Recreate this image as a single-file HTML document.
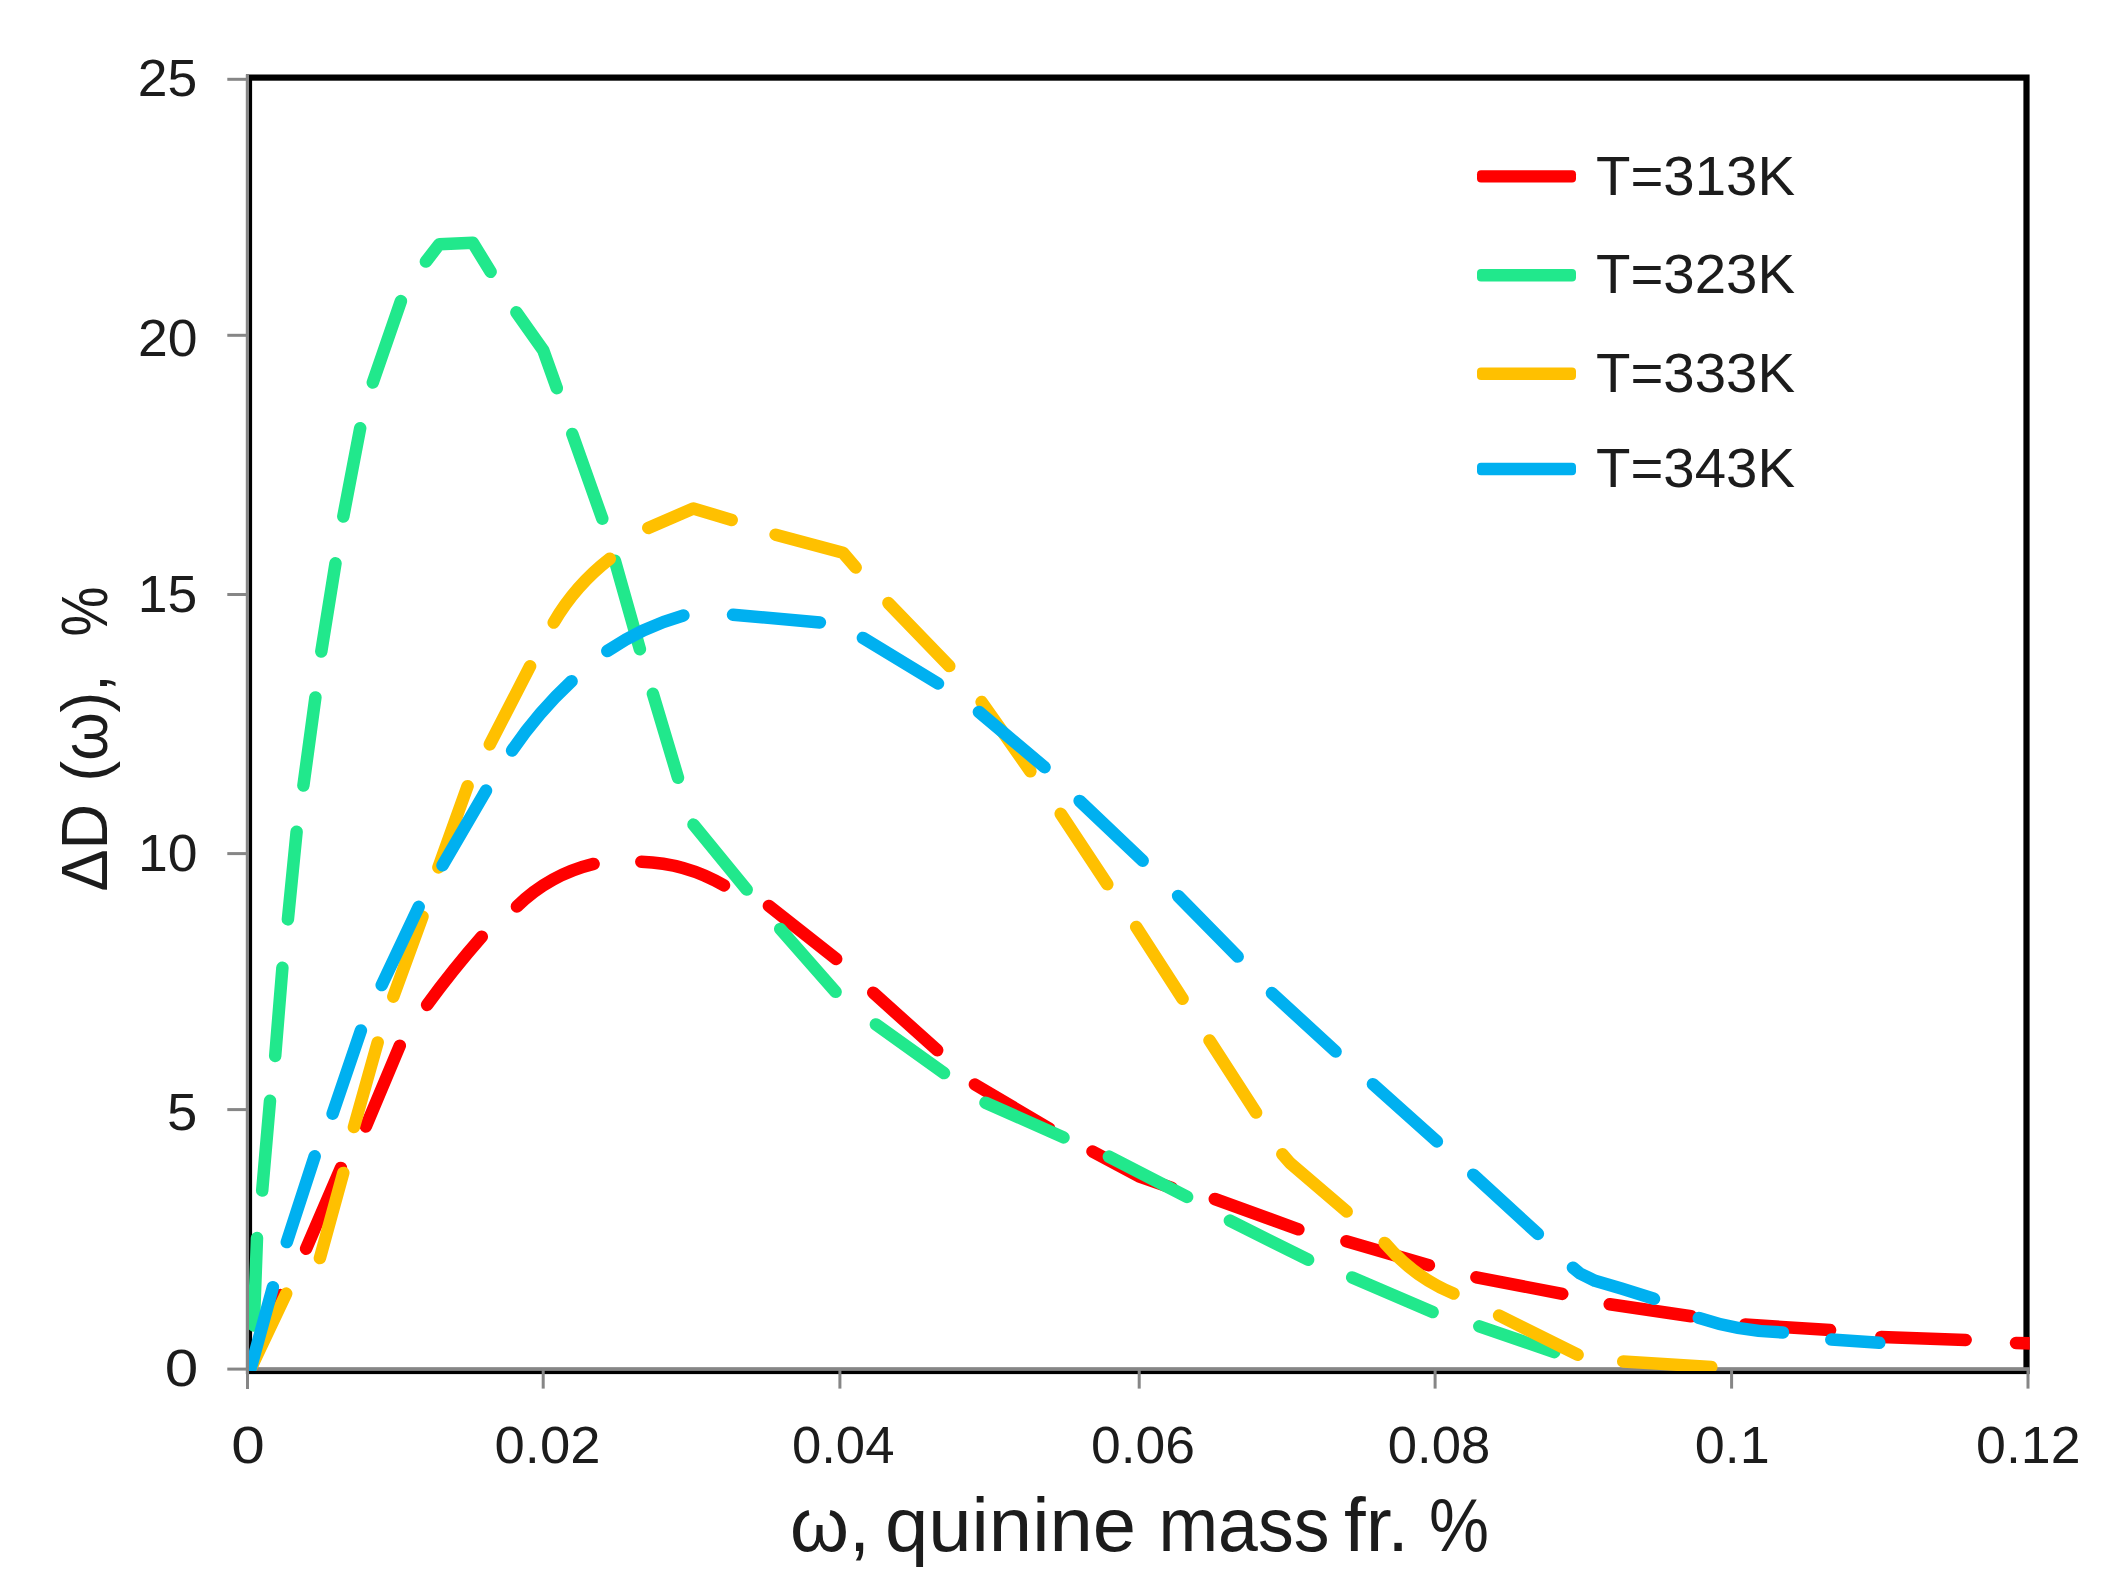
<!DOCTYPE html>
<html lang="en"><head><meta charset="utf-8"><title>ΔD(ω) chart</title>
<style>
html,body{margin:0;padding:0;background:#fff;}
body{width:2117px;height:1580px;overflow:hidden;}
svg{display:block;}
text{font-family:"Liberation Sans", sans-serif;fill:#1c1c1c;}
.c{fill:none;stroke-width:12.5;stroke-linecap:round;stroke-linejoin:round;}
</style></head><body>
<svg width="2117" height="1580" viewBox="0 0 2117 1580">
<rect width="2117" height="1580" fill="#fff"/>
<g id="frame">
<rect x="249" y="77.6" width="1777.5" height="1293.4" fill="none" stroke="#000" stroke-width="6.2"/>
<rect x="246" y="75" width="3" height="1314" fill="#868686"/>
<rect x="246" y="1367.2" width="1783.8" height="3.7" fill="#868686"/>
<rect x="227.3" y="77.8" width="19" height="3" fill="#868686"/>
<rect x="227.3" y="333.8" width="19" height="3" fill="#868686"/>
<rect x="227.3" y="593.0" width="19" height="3" fill="#868686"/>
<rect x="227.3" y="852.1" width="19" height="3" fill="#868686"/>
<rect x="227.3" y="1108.1" width="19" height="3" fill="#868686"/>
<rect x="227.3" y="1367.6" width="19" height="3" fill="#868686"/>
<rect x="541.7" y="1368" width="3" height="20.6" fill="#868686"/>
<rect x="838.4" y="1368" width="3" height="20.6" fill="#868686"/>
<rect x="1137.7" y="1368" width="3" height="20.6" fill="#868686"/>
<rect x="1433.6" y="1368" width="3" height="20.6" fill="#868686"/>
<rect x="1730.1" y="1368" width="3" height="20.6" fill="#868686"/>
<rect x="2026.5" y="1368" width="3" height="20.6" fill="#868686"/>
</g>
<clipPath id="pc"><rect x="249" y="70" width="1780.8" height="1300.9"/></clipPath>
<g id="curves" clip-path="url(#pc)">
<path class="c" stroke="#ff0000" d="M250.5 1369.0 L280.4 1295.1 M306.1 1248.8 L340.9 1167.9 M365.9 1126.4 L399.8 1045.7 M427.1 1004.9 Q452.9 969.6 481.8 936.7 M516.9 906.5 Q549.4 874.7 593.6 863.9 M641.3 861.7 Q685.7 863.0 724.0 885.4 M768.9 905.9 L836.2 959.0 M873.2 992.7 L937.2 1050.2 M974.9 1084.5 L1049.3 1128.7 M1092.5 1151.5 L1138.9 1176.3 L1171.8 1187.9 M1214.8 1199.0 L1298.4 1229.3 M1346.4 1241.3 L1428.9 1265.2 M1476.4 1277.3 L1562.3 1293.9 M1609.7 1304.2 L1691.1 1316.2 M1745.2 1324.5 L1830.1 1330.1 M1881.2 1336.9 L1965.7 1339.9 M2016.0 1343.0 L2031.0 1343.4"/>
<path class="c" stroke="#21e88c" d="M257.0 1238.1 L253.8 1325.5 M270.0 1100.8 L262.2 1190.6 M282.4 967.7 L275.2 1055.9 M296.6 831.8 L287.9 919.4 M315.4 697.4 L303.4 785.5 M335.5 563.3 L321.3 651.5 M360.2 428.2 L343.3 516.5 M400.9 301.1 L372.8 382.5 M425.9 261.6 L439.3 244.2 L472.8 242.8 L490.6 271.8 M516.4 312.3 L543.3 350.3 L556.8 388.2 M572.3 434.0 L602.3 518.7 M614.9 560.8 L639.9 649.3 M652.9 693.8 L678.0 777.7 M693.5 824.6 L746.7 889.6 M780.2 928.9 L835.6 991.8 M875.9 1024.4 L944.0 1073.1 M985.5 1102.7 L1063.5 1137.4 M1108.9 1156.6 L1187.1 1196.9 M1229.9 1220.6 L1308.1 1259.7 M1352.2 1277.4 L1432.6 1312.1 M1479.3 1326.3 L1554.2 1352.2"/>
<path class="c" stroke="#ffc000" d="M250.5 1369.0 L286.2 1293.6 M319.9 1258.1 L343.3 1172.9 M353.9 1127.1 L377.7 1042.4 M393.3 996.7 L422.5 916.5 M438.4 867.4 L467.6 786.2 M489.8 744.4 L530.1 666.2 M553.7 622.6 Q575.6 585.2 609.8 558.8 M648.3 527.9 L693.3 508.5 L731.7 519.9 M775.6 534.7 L842.9 552.7 L855.7 567.5 M888.4 603.1 L949.3 666.1 M981.6 702.0 L1030.4 771.3 M1060.7 813.8 L1107.3 884.2 M1136.2 926.9 L1182.6 998.8 M1209.5 1040.4 L1256.1 1112.6 M1282.3 1154.2 L1290.0 1163.0 L1346.7 1211.5 M1384.7 1242.9 Q1413.2 1276.7 1453.5 1293.6 M1499.1 1315.5 L1577.6 1354.7 M1623.2 1361.4 L1711.3 1366.9"/>
<path class="c" stroke="#00b0f0" d="M250.5 1369.0 L272.9 1287.2 M286.8 1242.1 L314.7 1156.3 M332.6 1113.7 L360.9 1030.4 M381.7 985.1 L418.7 906.8 M442.5 865.3 L486.0 790.6 M512.1 750.6 Q537.9 712.5 571.6 681.2 M607.3 651.0 Q642.5 627.1 683.4 615.5 M733.0 614.7 L819.9 622.4 M862.9 637.9 L938.0 683.5 M978.9 711.9 L1044.6 767.2 M1079.6 800.9 L1142.7 860.7 M1178.1 896.0 L1237.7 956.6 M1271.9 993.1 L1335.6 1051.5 M1372.9 1084.2 L1436.9 1141.4 M1473.2 1174.7 L1537.9 1233.9 M1572.9 1267.7 L1580.0 1273.5 L1595.0 1280.8 L1621.4 1288.6 L1654.0 1298.8 M1698.8 1317.9 Q1739.7 1331.6 1783.0 1332.4 M1831.3 1339.6 L1879.3 1342.8"/>
</g>
<g id="legend">
<rect x="1477" y="170.2" width="99" height="12.4" rx="4" fill="#ff0000"/>
<rect x="1477" y="269.0" width="99" height="12.4" rx="4" fill="#21e88c"/>
<rect x="1477" y="367.6" width="99" height="12.4" rx="4" fill="#ffc000"/>
<rect x="1477" y="462.8" width="99" height="12.4" rx="4" fill="#00b0f0"/>
<text x="1596.0" y="194.5" font-size="55.5" text-anchor="start" textLength="199.0" lengthAdjust="spacingAndGlyphs">T=313K</text>
<text x="1596.0" y="293.3" font-size="55.5" text-anchor="start" textLength="199.0" lengthAdjust="spacingAndGlyphs">T=323K</text>
<text x="1596.0" y="391.9" font-size="55.5" text-anchor="start" textLength="199.0" lengthAdjust="spacingAndGlyphs">T=333K</text>
<text x="1596.0" y="487.1" font-size="55.5" text-anchor="start" textLength="199.0" lengthAdjust="spacingAndGlyphs">T=343K</text>
</g>
<g id="ticklabels">
<text x="248.0" y="1463.0" font-size="51.0" text-anchor="middle" textLength="33.5" lengthAdjust="spacingAndGlyphs">0</text>
<text x="547.5" y="1463.0" font-size="51.0" text-anchor="middle" textLength="106.0" lengthAdjust="spacingAndGlyphs">0.02</text>
<text x="843.2" y="1463.0" font-size="51.0" text-anchor="middle" textLength="102.5" lengthAdjust="spacingAndGlyphs">0.04</text>
<text x="1143.0" y="1463.0" font-size="51.0" text-anchor="middle" textLength="104.0" lengthAdjust="spacingAndGlyphs">0.06</text>
<text x="1439.0" y="1463.0" font-size="51.0" text-anchor="middle" textLength="102.5" lengthAdjust="spacingAndGlyphs">0.08</text>
<text x="1732.3" y="1463.0" font-size="51.0" text-anchor="middle" textLength="75.0" lengthAdjust="spacingAndGlyphs">0.1</text>
<text x="2028.3" y="1463.0" font-size="51.0" text-anchor="middle" textLength="104.5" lengthAdjust="spacingAndGlyphs">0.12</text>
<text x="197.3" y="96.0" font-size="51.0" text-anchor="end" textLength="59.5" lengthAdjust="spacingAndGlyphs">25</text>
<text x="197.5" y="355.6" font-size="51.0" text-anchor="end" textLength="59.5" lengthAdjust="spacingAndGlyphs">20</text>
<text x="197.3" y="611.8" font-size="51.0" text-anchor="end" textLength="59.5" lengthAdjust="spacingAndGlyphs">15</text>
<text x="197.5" y="870.8" font-size="51.0" text-anchor="end" textLength="59.5" lengthAdjust="spacingAndGlyphs">10</text>
<text x="197.3" y="1129.9" font-size="51.0" text-anchor="end" textLength="30.3" lengthAdjust="spacingAndGlyphs">5</text>
<text x="198.3" y="1386.1" font-size="51.0" text-anchor="end" textLength="33.5" lengthAdjust="spacingAndGlyphs">0</text>
</g>
<g id="titles">
<text y="1551" font-size="76"><tspan x="790.0" textLength="80.0" lengthAdjust="spacingAndGlyphs">ω,</tspan> <tspan x="885.0" textLength="251.0" lengthAdjust="spacingAndGlyphs">quinine</tspan> <tspan x="1158.5" textLength="171.0" lengthAdjust="spacingAndGlyphs">mass</tspan> <tspan x="1344.0" textLength="65.0" lengthAdjust="spacingAndGlyphs">fr.</tspan> <tspan x="1429.0" textLength="60.0" lengthAdjust="spacingAndGlyphs">%</tspan></text>
<g transform="translate(107,0) rotate(-90)">
<text y="0" font-size="64"><tspan x="-891.5" textLength="87.5" lengthAdjust="spacingAndGlyphs">ΔD</tspan> <tspan x="-781.5" textLength="107.0" lengthAdjust="spacingAndGlyphs">(ω),</tspan> <tspan x="-636.5" textLength="50.0" lengthAdjust="spacingAndGlyphs">%</tspan></text>
</g>
</g>
</svg></body></html>
